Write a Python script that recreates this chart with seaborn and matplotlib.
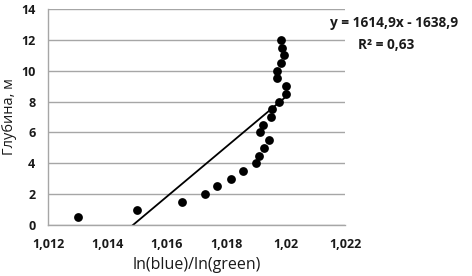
import numpy as np
import pandas as pd
import matplotlib
matplotlib.use('Agg')
import matplotlib.pyplot as plt
import seaborn as sns

# ratio ln(blue)/ln(green) vs depth
ratio = [1.0130, 1.0150, 1.0165, 1.0173, 1.0177, 1.01815, 1.01858, 1.0190, 1.0191,
         1.01927, 1.01945, 1.01914, 1.01925, 1.0195, 1.01953, 1.01979, 1.02003,
         1.02001, 1.0197, 1.01972, 1.01983, 1.01995, 1.01987, 1.01985]
depth = [0.5, 1.0, 1.5, 2.0, 2.5, 3.0, 3.5, 4.0, 4.5,
         5.0, 5.5, 6.0, 6.5, 7.0, 7.5, 8.0, 8.5,
         9.0, 9.5, 10.0, 10.5, 11.0, 11.5, 12.0]
slope = 1614.9
intercept = -1638.9
eq_text = 'y = 1614,9x - 1638,9'
r2_text = 'R² = 0,63'

df = pd.DataFrame({'ratio': ratio, 'depth': depth})

sns.set_style('white')
plt.rcParams['font.family'] = ['Open Sans', 'DejaVu Sans']

fig = plt.figure(figsize=(4.72, 2.76), dpi=100)
ax = fig.add_axes([48 / 472, 1 - 225 / 276, (345 - 48) / 472, (225 - 9) / 276])

sns.scatterplot(data=df, x='ratio', y='depth', ax=ax, color='black', s=40,
                edgecolor='black', linewidth=0, zorder=3)

# linear trendline from the shown equation, over the data range
xs = np.array([min(ratio), max(ratio)])
ax.plot(xs, slope * xs + intercept, color='black', lw=1.3, zorder=2)

ax.set_xlim(1.012, 1.022)
ax.set_ylim(0, 14)
ax.set_xticks([1.012, 1.014, 1.016, 1.018, 1.020, 1.022])
ax.set_xticklabels(['1,012', '1,014', '1,016', '1,018', '1,02', '1,022'])
ax.set_yticks(range(0, 15, 2))
ax.set_yticklabels([str(v) for v in range(0, 15, 2)])

ax.grid(axis='y', color='#a6a6a6', lw=1)
ax.set_axisbelow(True)
for side in ['top', 'right']:
    ax.spines[side].set_visible(False)
for side in ['left', 'bottom']:
    ax.spines[side].set_color('#a6a6a6')
    ax.spines[side].set_linewidth(1)
ax.tick_params(axis='both', length=4, width=1, color='#a6a6a6', direction='out',
               labelsize=9, pad=5)
for lbl in ax.get_xticklabels() + ax.get_yticklabels():
    lbl.set_fontweight('bold')
    lbl.set_color('#1a1a1a')

ax.set_xlabel('ln(blue)/ln(green)', fontsize=11.5, color='#1a1a1a', labelpad=5)
ax.set_ylabel('Глубина, м', fontsize=10.5, color='#1a1a1a')
ax.yaxis.set_label_coords(-31 / 297, 0.5)

fig.text(394 / 472, 1 - 23 / 276, eq_text, ha='center', va='center',
         fontsize=9.8, fontweight='bold', color='#1a1a1a')
fig.text(386 / 472, 1 - 45 / 276, r2_text, ha='center', va='center',
         fontsize=9.8, fontweight='bold', color='#1a1a1a')

fig.savefig('out.png', dpi=100)
